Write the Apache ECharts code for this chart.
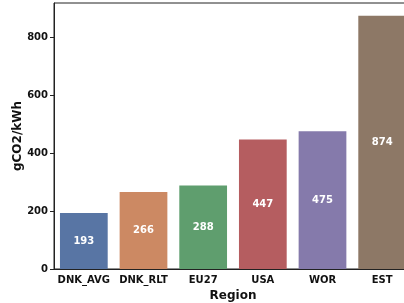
<!DOCTYPE html>
<html>
<head>
<meta charset="utf-8">
<script src="https://cdn.jsdelivr.net/npm/echarts@6/dist/echarts.min.js"></script>
<style>
  html, body { margin: 0; padding: 0; background: #fff; }
  #chart { width: 404px; height: 303px; }
</style>
</head>
<body>
<div id="chart"></div>
<script>
// data
const regions = ["DNK_AVG", "DNK_RLT", "EU27", "USA", "WOR", "EST"];
const intensity = [193, 266, 288, 447, 475, 874];
const barColors = ["#5875a4", "#cc8963", "#5f9e6e", "#b55d60", "#857aab", "#8d7866"];
const yTicks = [0, 200, 400, 600, 800];

const font = "DejaVu Sans";
const yMax = Math.max(...intensity) * 1.05;

const chart = echarts.init(document.getElementById("chart"), null, { renderer: "canvas" });
chart.setOption({
  backgroundColor: "#fff",
  animation: false,
  grid: {
    left: 54,
    top: 3,
    width: 358,
    height: 266,
    outerBoundsMode: "none",
    containLabel: false,
    show: true,
    borderColor: "#222",
    borderWidth: 1,
    backgroundColor: "transparent",
  },
  xAxis: {
    type: "category",
    data: regions,
    name: "Region",
    nameLocation: "middle",
    nameGap: 21,
    nameMoveOverlap: false,
    nameTextStyle: { fontFamily: font, fontWeight: "bold", fontSize: 12, color: "#111" },
    axisLine: { lineStyle: { color: "#222", width: 1 } },
    axisTick: { alignWithLabel: true, length: 4, lineStyle: { color: "#222" } },
    axisLabel: { interval: 0, fontFamily: font, fontWeight: "bold", fontSize: 10, color: "#111", margin: 6 },
  },
  yAxis: {
    type: "value",
    min: 0,
    max: yMax,
    interval: 200,
    name: "gCO2/kWh",
    nameLocation: "middle",
    nameGap: 30,
    nameMoveOverlap: false,
    nameTextStyle: { fontFamily: font, fontWeight: "bold", fontSize: 12, color: "#111" },
    splitLine: { show: false },
    axisLine: { show: true, lineStyle: { color: "#222", width: 1 } },
    axisTick: { show: true, length: 4, customValues: yTicks, lineStyle: { color: "#222" } },
    axisLabel: { fontFamily: font, fontWeight: "bold", fontSize: 10, color: "#111", margin: 6, customValues: yTicks },
  },
  series: [
    {
      type: "bar",
      data: intensity.map((v, i) => ({ value: v, itemStyle: { color: barColors[i] } })),
      barWidth: "80%",
      label: {
        show: true,
        position: "inside",
        fontFamily: font,
        fontWeight: "bold",
        fontSize: 10,
        color: "#fff",
      },
    },
  ],
});
</script>
</body>
</html>
